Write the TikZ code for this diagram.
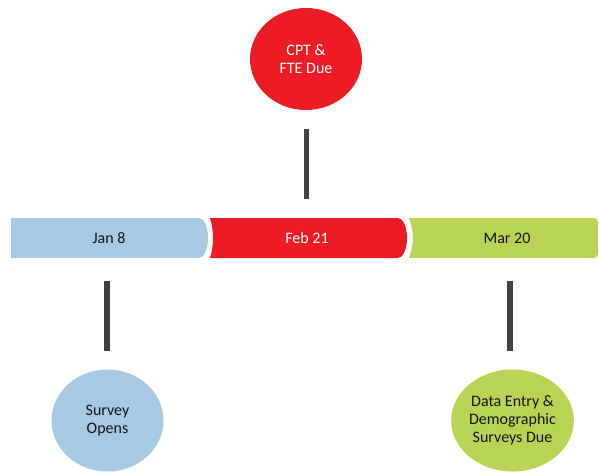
\documentclass[tikz,border=0pt]{standalone}
\usepackage{fontspec}
\setmainfont{Carlito}
\usetikzlibrary{shapes.geometric}
\definecolor{cblue}{HTML}{A6CAE3}
\definecolor{cred}{HTML}{ED1C24}
\definecolor{cgreen}{HTML}{B8D455}
\definecolor{cline}{HTML}{404040}
\definecolor{ctext}{HTML}{151515}
\tikzset{
  lbl/.style={font=\fontsize{16}{18}\selectfont, align=center, inner sep=0pt},
  bubble/.style={ellipse, minimum width=112pt, minimum height=102pt, inner sep=0pt, lbl},
  stem/.style={draw=cline, line width=5.5pt}
}
\begin{document}
\begin{tikzpicture}[x=1pt,y=-1pt]
\useasboundingbox (0,0) rectangle (599,472);
% bar segments
\fill[cblue] (11,218) -- (199,218) .. controls (204,218) and (208,227) .. (208,238)
  .. controls (208,249) and (204,258) .. (199,258) -- (11,258) -- cycle;
\fill[cred] (210,218) -- (398,218) .. controls (403,218) and (407,227) .. (407,238)
  .. controls (407,249) and (403,258) .. (398,258) -- (210,258)
  .. controls (212,252) and (213,245) .. (213,238) .. controls (213,231) and (212,224) .. (210,218) -- cycle;
\fill[cgreen] (409,218) -- (594,218) .. controls (596.2,218) and (598,219.8) .. (598,222)
  -- (598,254) .. controls (598,256.2) and (596.2,258) .. (594,258) -- (409,258)
  .. controls (411,252) and (413,245) .. (413,238) .. controls (413,231) and (411,224) .. (409,218) -- cycle;
% bar labels
\node[lbl, text=ctext] (jan) at (109,238) {Jan 8};
\node[lbl, text=white] (feb) at (307,238) {Feb 21};
\node[lbl, text=ctext] (mar) at (507,238) {Mar 20};
% bubbles
\node[bubble, fill=cred, text=white] (cpt) at (306,59) {CPT \&\\FTE Due};
\node[bubble, fill=cblue, text=ctext] (open) at (107.5,420.5) {Survey\\Opens};
\node[bubble, fill=cgreen, text=ctext] (data) at (512.5,420.5) {Data Entry \&\\Demographic\\Surveys Due};
% stems
\coordinate (s1a) at (306.5,129); \coordinate (s1b) at (306.5,199);
\coordinate (s2a) at (107,281);   \coordinate (s2b) at (107,351);
\coordinate (s3a) at (510,281);   \coordinate (s3b) at (510,351);
\draw[stem] (s1a) -- (s1b);
\draw[stem] (s2a) -- (s2b);
\draw[stem] (s3a) -- (s3b);
\end{tikzpicture}
\end{document}
